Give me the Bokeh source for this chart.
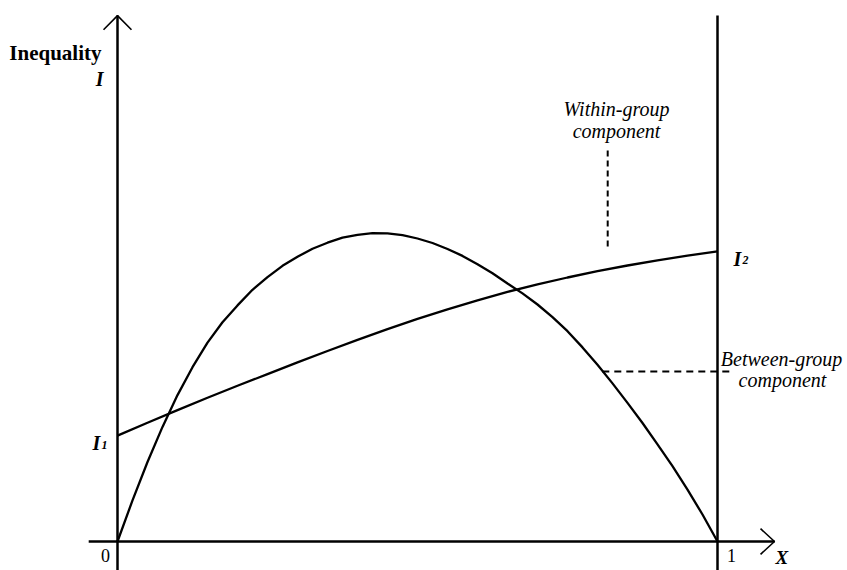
from bokeh.plotting import figure
from bokeh.models import Range1d
from bokeh.core.properties import value
from bokeh.embed import file_html
from bokeh.resources import INLINE

# ---- data (x = share X, y = inequality) ----
x_within = [0.0, 0.05, 0.10, 0.15, 0.20, 0.25, 0.30, 0.35, 0.40, 0.45, 0.50,
            0.55, 0.60, 0.65, 0.70, 0.75, 0.80, 0.85, 0.90, 0.95, 1.0]
within_group = [0.353, 0.396, 0.438, 0.479, 0.519, 0.558, 0.597, 0.635, 0.672, 0.708, 0.742,
                0.774, 0.804, 0.832, 0.857, 0.880, 0.901, 0.920, 0.937, 0.953, 0.967]
x_between = [0.0, 0.025, 0.05, 0.075, 0.10, 0.125, 0.15, 0.175, 0.20, 0.225, 0.25,
             0.275, 0.30, 0.325, 0.35, 0.375, 0.40, 0.425, 0.45, 0.475, 0.50,
             0.525, 0.55, 0.575, 0.60, 0.625, 0.65, 0.675, 0.70, 0.725, 0.75,
             0.775, 0.80, 0.825, 0.85, 0.875, 0.90, 0.925, 0.95, 0.975, 1.0]
between_group = [0.0, 0.137, 0.265, 0.382, 0.488, 0.581, 0.663, 0.731, 0.787, 0.839, 0.881,
                 0.919, 0.949, 0.976, 0.996, 1.013, 1.022, 1.028, 1.027, 1.021, 1.010,
                 0.995, 0.975, 0.952, 0.924, 0.894, 0.860, 0.827, 0.790, 0.748, 0.701,
                 0.647, 0.589, 0.527, 0.462, 0.395, 0.324, 0.251, 0.173, 0.090, 0.0]
x_tick_labels = ["0", "1"]
y_title = "Inequality"
y_symbol = "I"
x_symbol = "X"
within_label = ["Within-group", "component"]
between_label = ["Between-group", "component"]

W, H = 847, 570
XS = -117 / 600
YE = 541 / 300
p = figure(width=W, height=H, output_backend="svg", toolbar_location=None,
           x_range=Range1d(XS, XS + W / 600),
           y_range=Range1d(YE - H / 300, YE),
           min_border=0, outline_line_color=None)
p.axis.visible = False
p.grid.visible = False

BLACK = "#000000"
SERIF = value("Liberation Serif")

# axes and right boundary
y_top = 1.753
y_bot = -0.095
x_right = 1.095
p.segment(x0=[0, -0.048, 1], y0=[y_bot, 0, y_bot], x1=[0, x_right, 1], y1=[y_top, 0, y_top],
          line_color=BLACK, line_width=2.5)
# arrow heads
p.line(x=[-0.0233, 0, 0.0233], y=[y_top - 0.047, y_top, y_top - 0.047], line_color=BLACK, line_width=1.6)
p.line(x=[x_right - 0.0233, x_right, x_right - 0.0233], y=[0.043, 0, -0.043], line_color=BLACK, line_width=1.6)

# curves
p.line(x=x_within, y=within_group, line_color=BLACK, line_width=2.3)
p.line(x=x_between, y=between_group, line_color=BLACK, line_width=2.3)

# dashed leaders
p.line(x=[0.817, 0.817], y=[1.303, 0.97], line_color=BLACK, line_width=2, line_dash="6 4")
p.line(x=[0.808, 1.02], y=[0.5667, 0.5667], line_color=BLACK, line_width=2, line_dash="7 5")

# axis titles
p.text(x=[-0.0267], y=[1.63], text=[y_title], text_font=SERIF, text_font_size="21px",
       text_font_style="bold", text_align="right", text_baseline="alphabetic", text_color=BLACK)
p.text(x=[-0.0233], y=[1.5433], text=[y_symbol], text_font=SERIF, text_font_size="20px",
       text_font_style="bold italic", text_align="right", text_baseline="alphabetic", text_color=BLACK)
p.text(x=[1.0967], y=[-0.0533], text=[x_symbol], text_font=SERIF, text_font_size="19px",
       text_font_style="bold italic", text_align="left", text_baseline="middle", text_color=BLACK)

# tick labels
p.text(x=[-0.02, 1.0233], y=[-0.0467, -0.0467], text=x_tick_labels, text_font=SERIF,
       text_font_size="18px", text_align="center", text_baseline="middle", text_color=BLACK)

# I1 and I2 labels
p.text(x=[-0.0417, 1.0267], y=[0.3267, 0.9433], text=[y_symbol, y_symbol], text_font=SERIF,
       text_font_size="20px", text_font_style="bold italic", text_align="left",
       text_baseline="alphabetic", text_color=BLACK)
p.text(x=[-0.0267, 1.0417], y=[0.3233, 0.94], text=["1", "2"], text_font=SERIF,
       text_font_size="12px", text_font_style="bold italic", text_align="left",
       text_baseline="alphabetic", text_color=BLACK)

# component annotations
p.text(x=[0.8317, 0.8317], y=[1.4433, 1.3667], text=within_label, text_font=SERIF,
       text_font_size="20px", text_font_style="italic", text_align="center",
       text_baseline="middle", text_color=BLACK)
p.text(x=[1.1067, 1.1083], y=[0.61, 0.5367], text=between_label, text_font=SERIF,
       text_font_size="20px", text_font_style="italic", text_align="center",
       text_baseline="middle", text_color=BLACK)

open("out.html", "w").write(file_html(p, INLINE))
